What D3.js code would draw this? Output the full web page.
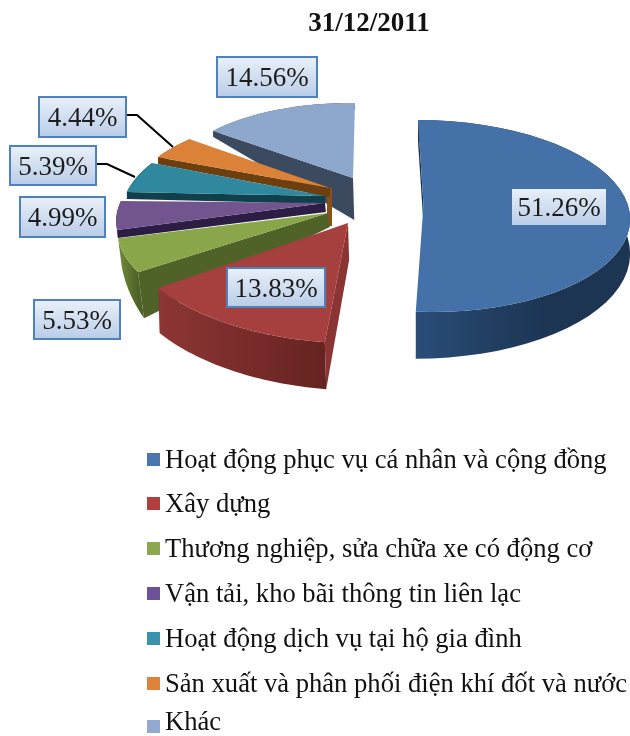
<!DOCTYPE html>
<html><head><meta charset="utf-8">
<script src="https://cdnjs.cloudflare.com/ajax/libs/d3/7.8.5/d3.min.js"></script>
<style>html,body{margin:0;padding:0;background:#fff}svg{display:block;filter:blur(0.4px)}</style>
</head><body><div id="c"></div>
<script>
const title = "31/12/2011";
const categories = ["Hoạt động phục vụ cá nhân và cộng đồng","Xây dựng","Thương nghiệp, sửa chữa xe có động cơ","Vận tải, kho bãi thông tin liên lạc","Hoạt động dịch vụ tại hộ gia đình","Sản xuất và phân phối điện khí đốt và nước","Khác"];
const values = [51.26,13.83,5.53,4.99,5.39,4.44,14.56];
const topColors = ["#4471a7","#a5403e","#8aa64a","#72558f","#30889e","#db8238","#8ea7cd"];
const wallLight = ["#2a4d78","#8c3634","#728c3b","#3c2a58","#174a5a","#8a5015","#4a5a74"];
const wallDark = ["#1c3553","#662321","#4f6228","#2c1d45","#123f4c","#6e3f0e","#3c4a60"];
const legendColors = ["#4a76ad","#b23f3d","#8ca84e","#6c5298","#3a93ad","#dd843a","#93a9d2"];

// Perspective frame of each exploded slice: rim = centre + ux,uy*sin(a) - vx,vy*cos(a)
const centres = [[425,216],[348,223],[328,213],[325,203],[325,196],[330,188],[353,178]];
const apexes  = [[423.5,205],[348,223],[328,213],[325,203],[325,196],[330,188],[353,178]];
const axesU = [[205,0],[230,6],[208,4],[205.6,-1.6],[199.5,0.6],[193.7,3.1],[178,1.6]];
const axesV = [[7,96],[-5,120],[-36,107],[-37,93.5],[-33.7,88],[-22,76],[-2,75]];
// depth at apex, rim at start angle, rim at end angle; sideways drift of the depth
const depths = [[20,22,47],[37,47,45],[14,46,28],[9,8,6],[8,7,6],[9,7,6],[42,6,6]];
const drift = [0,0.03,0.13,0.1,0,0,0.03];
const hubDepth = {5:38};
const drawOrder = [6,0,5,4,3,2,1];

const labels = values.map(v=>v.toFixed(2)+"%");
const labelBoxes = [[511,188,96,38],[227,268,98,39],[34,300,86,39],[20,197,85,40],[10,146,86,39],[39,97,87,40],[217,57,100,40]];
const leaders = {4:[[96,164],[107,164],[135,177]],5:[[126,115],[137,115],[173,147]]};
const legendRows = [460,504,549,594,639,684,727];
const legendBaselines = [468,512,557,602,647,692,730];

const W=630,H=736;
const svg=d3.select("#c").append("svg").attr("width",W).attr("height",H).attr("viewBox",[0,0,W,H]);
const defs=svg.append("defs");
const lg=defs.append("linearGradient").attr("id","box").attr("x1",0).attr("y1",0).attr("x2",0).attr("y2",1);
lg.append("stop").attr("offset",0).attr("stop-color","#e9f0f9");
lg.append("stop").attr("offset",1).attr("stop-color","#b9cde8");

const arcs=d3.pie().sort(null).value(d=>d)(values);
const line=d3.line();
const samples=(a,b)=>d3.range(0,41).map(i=>a+(b-a)*i/40);
function rim(i,a){const [cx,cy]=centres[i],[ux,uy]=axesU[i],[vx,vy]=axesV[i];
  return [cx+ux*Math.sin(a)-vx*Math.cos(a), cy+uy*Math.sin(a)-vy*Math.cos(a)];}
function lower(i,p,d){return [p[0]+d*drift[i],p[1]+d];}

const g=svg.append("g");
drawOrder.forEach(i=>{
  const d=arcs[i],s=samples(d.startAngle,d.endAngle),ap=apexes[i],dp=depths[i];
  const gid="w"+i;
  const xs=s.map(a=>rim(i,a)[0]);
  const gr=defs.append("linearGradient").attr("id",gid).attr("gradientUnits","userSpaceOnUse")
    .attr("x1",d3.min(xs)).attr("x2",d3.max(xs)).attr("y1",0).attr("y2",0);
  gr.append("stop").attr("offset",0).attr("stop-color",wallLight[i]);
  gr.append("stop").attr("offset",i===0?0.6:1).attr("stop-color",wallDark[i]);
  const top=s.map(a=>rim(i,a));
  const bot=s.map((a,k)=>lower(i,top[k],dp[1]+(dp[2]-dp[1])*k/40));
  if(hubDepth[i]) g.append("rect").attr("x",ap[0]-3).attr("y",ap[1]).attr("width",5).attr("height",hubDepth[i]).attr("fill",wallLight[i]);
  g.append("path").attr("d",line(top.concat(bot.slice().reverse()))+"Z").attr("fill",`url(#${gid})`);
  const p=top[0];
  const sideFill=i===1?"#8a3533":wallDark[i];
  g.append("path").attr("d",line([ap,p,bot[0],lower(i,ap,dp[0])])+"Z").attr("fill",sideFill);
  g.append("path").attr("d",line([ap].concat(top))+"Z").attr("fill",topColors[i]);
});

Object.entries(leaders).forEach(([k,pts])=>{
  svg.append("path").attr("d",line(pts)).attr("fill","none").attr("stroke","#000").attr("stroke-width",2);
});
labels.forEach((t,i)=>{
  const [x,y,w,h]=labelBoxes[i];
  svg.append("rect").attr("x",x).attr("y",y).attr("width",w).attr("height",h)
    .attr("fill","url(#box)").attr("stroke",i===0?"#4471a7":"#4f81bd").attr("stroke-width",2);
  svg.append("text").attr("x",x+w/2).attr("y",y+h/2+9).attr("text-anchor","middle")
    .attr("font-family","'Liberation Serif',serif").attr("font-size",27).attr("fill","#1c1c1c").text(t);
});
svg.append("text").attr("x",369).attr("y",31).attr("text-anchor","middle")
  .attr("font-family","'Liberation Serif',serif").attr("font-weight","bold").attr("font-size",27).attr("fill","#111").text(title);
categories.forEach((t,i)=>{
  const y=legendRows[i];
  svg.append("rect").attr("x",147).attr("y",y-7).attr("width",13).attr("height",13).attr("fill",legendColors[i]);
  svg.append("text").attr("x",165).attr("y",legendBaselines[i]).attr("font-family","'Liberation Serif',serif")
    .attr("font-size",26.6).attr("fill","#111").text(t);
});
</script></body></html>
